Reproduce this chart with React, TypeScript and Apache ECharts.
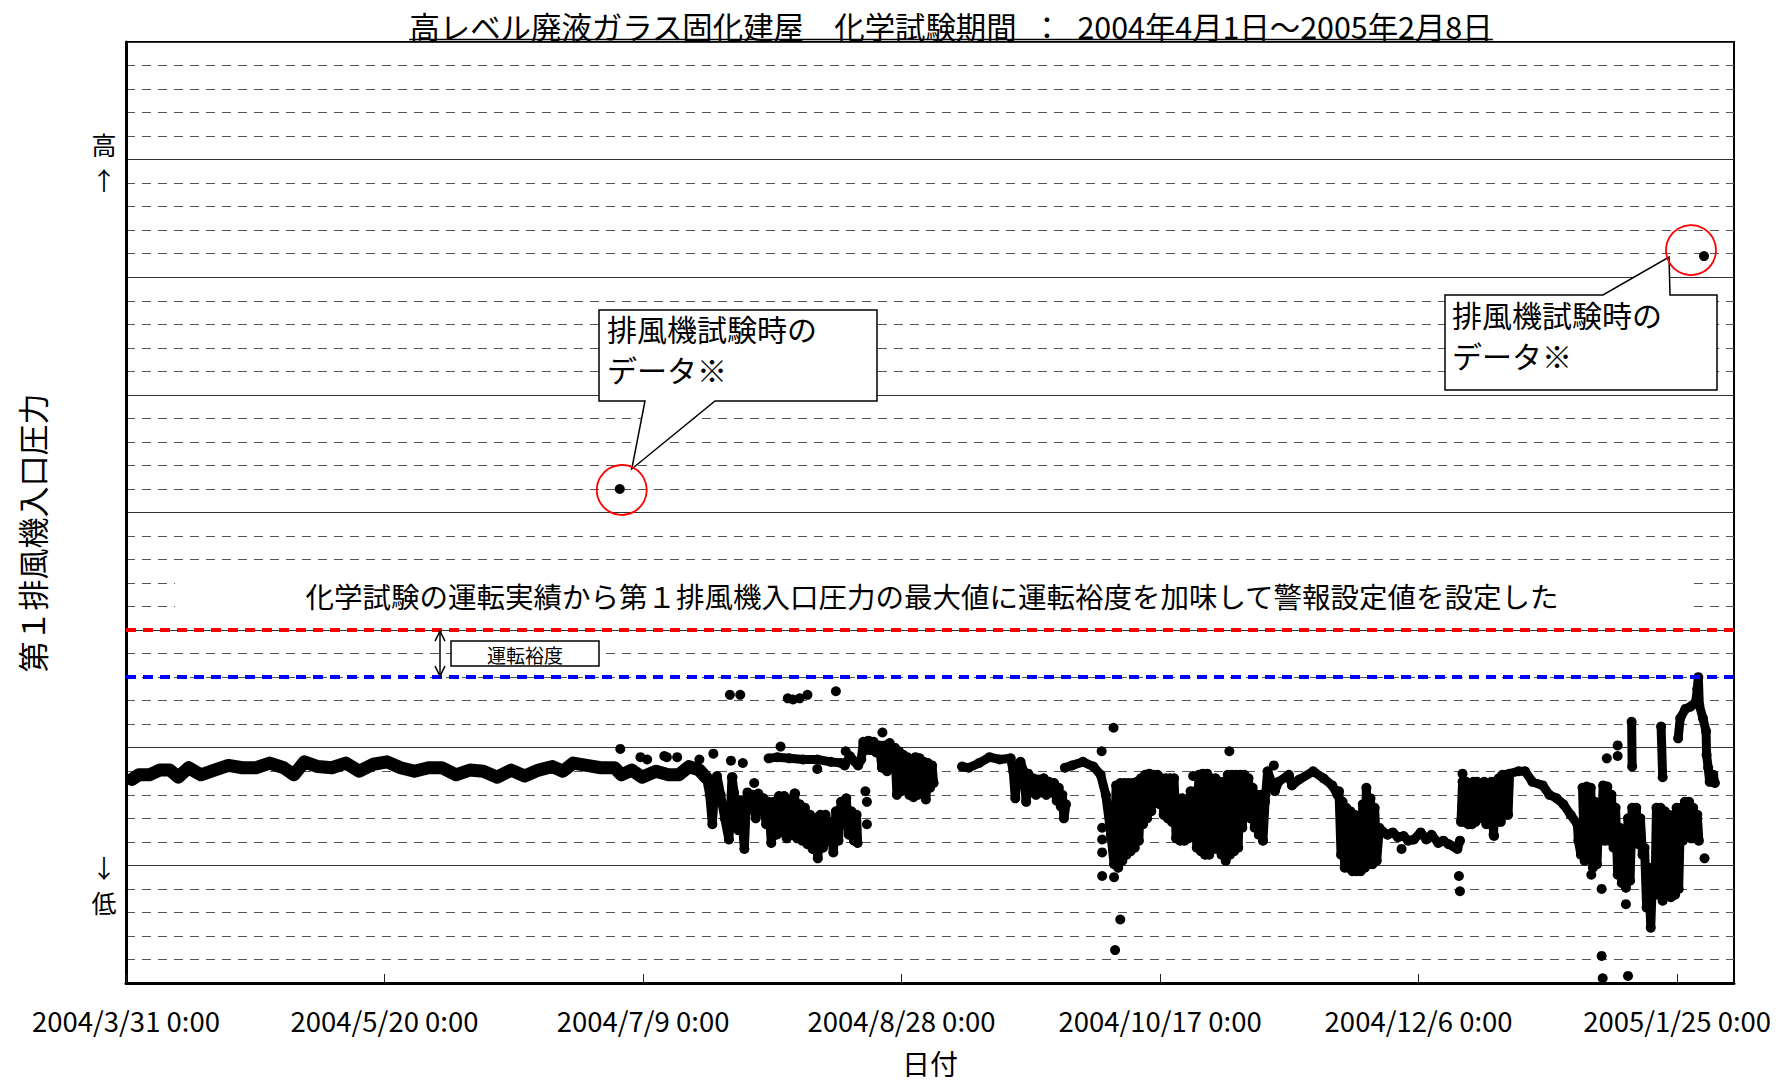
import React, { useEffect, useRef } from "react";
import * as echarts from "echarts";

// x values are days counted from 2004/3/31 0:00 (day 0); y values are in grid units (0–8).
const AXIS_START = Date.UTC(2004, 2, 31);
const X_MAX_DAY = 311;
const X_TICK_STEP = 50;
const Y_MAX = 8;

const TITLE = "高レベル廃液ガラス固化建屋　化学試験期間\u2002：\u20022004年4月1日～2005年2月8日";
const Y_NAME = "第１排風機入口圧力";
const X_NAME = "日付";
const NOTE = "化学試験の運転実績から第１排風機入口圧力の最大値に運転裕度を加味して警報設定値を設定した";
const MARGIN_LABEL = "運転裕度";
const CALLOUT_TEXT = "排風機試験時の\nデータ※";

// alarm setpoint (red) and the maximum seen during the chemical test (blue)
const alarmSetpoint = 3.0;
const testMaximum = 2.6;

// readings taken while the exhaust fan was being tested
const fanTestPoints: number[][] = [
  [95.5, 4.2],
  [305.2, 6.18],
];

// steady operation, April – early July
const traceAprJul: number[][] = [
  [1.1, 1.73], [2.5, 1.77], [4.5, 1.77], [6.5, 1.81], [8.5, 1.81], [10.1, 1.75], [12.1, 1.83],
  [14.5, 1.77], [17.1, 1.81], [19.8, 1.85], [22.5, 1.83], [25.1, 1.83], [27.8, 1.87], [30.5, 1.83],
  [32.5, 1.77], [34.5, 1.88], [37.1, 1.84], [39.8, 1.83], [42.5, 1.87], [45.1, 1.8], [47.8, 1.86],
  [50.5, 1.88], [53.1, 1.83], [55.8, 1.8], [58.5, 1.83], [61.1, 1.83], [63.8, 1.77], [66.5, 1.81],
  [69.1, 1.8], [71.8, 1.75], [74.5, 1.81], [77.1, 1.76], [79.8, 1.81], [82.5, 1.84], [84.5, 1.8],
  [86.5, 1.87], [89.1, 1.85], [91.8, 1.83], [94.5, 1.83], [95.8, 1.77], [97.8, 1.81], [99.8, 1.75],
  [102.5, 1.8], [104.9, 1.77], [106.9, 1.77], [108.9, 1.84], [110.9, 1.81], [112.3, 1.74],
];

// dips and the scattered period, late July – August
const traceJulAug: number[][] = [
  [112.3, 1.74], [112.9, 1.6], [113.4, 1.35], [113.8, 1.62], [114.3, 1.76], [115.0, 1.6],
  [115.8, 1.4], [116.6, 1.22], [116.9, 1.45], [117.2, 1.75], [117.6, 1.62], [118.0, 1.45],
  [118.4, 1.3], [118.8, 1.55], [119.3, 1.3], [119.6, 1.14], [119.9, 1.45], [120.2, 1.62],
  [120.8, 1.5], [121.3, 1.6], [121.8, 1.4], [122.3, 1.61], [122.8, 1.46], [123.3, 1.57],
  [123.8, 1.35], [124.3, 1.54], [124.8, 1.19], [125.3, 1.54], [125.8, 1.26], [126.3, 1.59],
  [126.8, 1.28], [127.3, 1.59], [127.8, 1.23], [128.3, 1.56], [128.8, 1.26], [129.3, 1.61],
  [129.8, 1.23], [130.3, 1.52], [130.8, 1.21], [131.3, 1.49], [131.8, 1.18], [132.3, 1.43],
  [132.8, 1.14], [133.3, 1.4], [133.8, 1.06], [134.3, 1.43], [134.8, 1.15], [135.3, 1.43],
  [135.8, 1.21], [136.3, 1.37], [136.8, 1.11], [137.3, 1.46], [137.8, 1.21], [138.3, 1.54],
  [138.8, 1.35], [139.3, 1.57], [139.8, 1.26], [140.3, 1.46], [140.8, 1.21], [141.3, 1.43],
  [141.5, 1.19],
];

// the upper branch, August
const traceAugUpper: number[][] = [
  [124.3, 1.91], [126.0, 1.92], [128.3, 1.91], [131.0, 1.9], [133.7, 1.9], [136.3, 1.88],
  [138.3, 1.87], [139.0, 1.85], [140.0, 1.93], [141.0, 1.88], [141.6, 1.85], [142.2, 1.9],
  [142.6, 2.05], [143.1, 1.98], [143.6, 2.06], [144.1, 1.98], [144.6, 2.05], [145.1, 1.96],
  [145.7, 2.02], [146.2, 1.83], [146.7, 2.02], [147.2, 1.8], [147.7, 2.04], [148.2, 1.85],
  [148.7, 2.0], [149.1, 1.6], [149.5, 1.97], [149.9, 1.63], [150.3, 1.94], [150.7, 1.66],
  [151.1, 1.92], [151.5, 1.6], [151.9, 1.9], [152.3, 1.58], [152.7, 1.92], [153.1, 1.6],
  [153.5, 1.91], [153.9, 1.63], [154.3, 1.88], [154.7, 1.56], [155.1, 1.87], [155.5, 1.66],
  [155.9, 1.85], [156.2, 1.7],
];

// September – early October
const traceSepOct: number[][] = [
  [161.7, 1.84], [163.0, 1.83], [165.0, 1.87], [167.0, 1.92], [169.0, 1.9], [171.1, 1.91],
  [171.6, 1.8], [172.0, 1.57], [172.4, 1.83], [173.0, 1.88], [173.6, 1.8], [174.1, 1.54],
  [174.5, 1.78], [175.0, 1.62], [175.5, 1.74], [176.0, 1.6], [176.5, 1.73], [177.0, 1.62],
  [177.5, 1.74], [178.0, 1.6], [178.5, 1.71], [179.0, 1.62], [179.5, 1.7], [180.0, 1.55],
  [180.4, 1.66], [180.8, 1.5], [181.1, 1.6], [181.4, 1.4], [181.8, 1.52],
];

// October – early December
const traceOctNov: number[][] = [
  [181.6, 1.83], [183.0, 1.85], [185.1, 1.88], [187.1, 1.84], [188.5, 1.77], [189.5, 1.6],
  [190.5, 1.26], [191.1, 1.01], [191.5, 1.68], [191.9, 0.98], [192.3, 1.7], [192.7, 1.04],
  [193.1, 1.7], [193.5, 1.09], [193.9, 1.7], [194.3, 1.12], [194.7, 1.7], [195.1, 1.15],
  [195.5, 1.71], [195.9, 1.21], [196.3, 1.74], [196.7, 1.35], [197.1, 1.77], [197.5, 1.4],
  [197.9, 1.78], [198.3, 1.46], [198.7, 1.77], [199.1, 1.54], [199.5, 1.77], [199.9, 1.52],
  [200.3, 1.74], [200.7, 1.43], [201.1, 1.74], [201.5, 1.4], [201.9, 1.74], [202.3, 1.37],
  [202.7, 1.74], [203.1, 1.23], [203.5, 1.57], [203.9, 1.21], [204.3, 1.57], [204.7, 1.21],
  [205.1, 1.54], [205.5, 1.23], [205.9, 1.63], [206.3, 1.26], [206.7, 1.63], [207.1, 1.15],
  [207.5, 1.77], [207.9, 1.12], [208.3, 1.78], [208.7, 1.09], [209.1, 1.78], [209.5, 1.09],
  [209.9, 1.74], [210.3, 1.14], [210.7, 1.74], [211.1, 1.14], [211.5, 1.71], [211.9, 1.09],
  [212.3, 1.71], [212.7, 1.04], [213.1, 1.77], [213.5, 1.09], [213.9, 1.77], [214.3, 1.12],
  [214.7, 1.77], [215.1, 1.15], [215.5, 1.77], [215.9, 1.32], [216.3, 1.77], [216.7, 1.43],
  [217.1, 1.74], [217.5, 1.4], [217.9, 1.66], [218.3, 1.32], [218.7, 1.6], [219.1, 1.26],
  [219.5, 1.6], [219.9, 1.21], [220.3, 1.54], [220.8, 1.8], [222.2, 1.63], [222.9, 1.71],
  [224.9, 1.77], [225.5, 1.68], [226.9, 1.73], [229.6, 1.8], [231.6, 1.74], [233.3, 1.68],
  [234.3, 1.6], [234.6, 1.63], [235.0, 1.09], [235.3, 1.54], [235.7, 0.98], [236.0, 1.49],
  [236.4, 0.98], [236.8, 1.46], [237.2, 0.95], [237.6, 1.43], [238.0, 0.95], [238.4, 1.4],
  [238.8, 0.95], [239.2, 1.52], [239.6, 0.98], [239.9, 1.66], [240.3, 1.01], [240.7, 1.57],
  [241.1, 1.01], [241.5, 1.49], [241.9, 1.04], [242.4, 1.32], [243.0, 1.29], [244.0, 1.26],
  [245.0, 1.28], [246.0, 1.24], [247.1, 1.25], [248.0, 1.21], [249.1, 1.22], [250.4, 1.28],
  [251.5, 1.22], [252.5, 1.26], [253.8, 1.19], [254.8, 1.21], [255.8, 1.18], [256.8, 1.16],
  [257.5, 1.14], [258.0, 1.21],
];

// December
const traceNovDec: number[][] = [
  [258.2, 1.37], [258.5, 1.71], [258.9, 1.37], [259.2, 1.71], [259.6, 1.35], [259.9, 1.68],
  [260.3, 1.35], [260.6, 1.71], [261.0, 1.37], [261.3, 1.71], [261.7, 1.4], [262.0, 1.68],
  [262.4, 1.4], [262.7, 1.71], [263.1, 1.35], [263.4, 1.68], [263.8, 1.35], [264.1, 1.71],
  [264.5, 1.26], [264.8, 1.71], [265.2, 1.37], [265.5, 1.74], [265.9, 1.37], [266.2, 1.77],
  [266.6, 1.43], [266.9, 1.77], [267.3, 1.43], [267.6, 1.78], [269.3, 1.8], [270.6, 1.8],
  [272.0, 1.71], [274.0, 1.68], [275.3, 1.6], [276.7, 1.57], [278.0, 1.52], [279.4, 1.43],
  [280.7, 1.35], [280.9, 1.21], [281.4, 1.09],
];

// late December – January, lower branch
const traceDecJan: number[][] = [
  [281.7, 1.66], [282.1, 1.04], [282.5, 1.67], [282.9, 1.09], [283.3, 1.66], [283.7, 0.98],
  [284.1, 1.54], [284.5, 1.01], [284.9, 1.49], [285.3, 1.21], [285.7, 1.68], [286.1, 1.21],
  [286.5, 1.67], [286.9, 1.21], [287.3, 1.6], [287.7, 1.15], [288.1, 1.49], [288.5, 0.92],
  [288.9, 1.32], [289.3, 0.85], [289.7, 1.26], [290.1, 0.81], [290.5, 1.4], [290.9, 0.87],
  [291.3, 1.49], [291.7, 1.21], [292.1, 1.49], [292.5, 1.18], [292.9, 1.4], [293.3, 1.09],
  [293.7, 1.15], [294.1, 0.64], [294.5, 0.98], [294.9, 0.47], [295.3, 0.98], [295.7, 0.75],
  [296.0, 1.49], [296.4, 0.75], [296.8, 1.49], [297.2, 0.7], [297.6, 1.46], [298.0, 0.75],
  [298.4, 1.43], [298.8, 0.73], [299.2, 1.32], [299.6, 0.75], [299.9, 1.49], [300.3, 0.8],
  [300.7, 1.49], [301.1, 1.21], [301.5, 1.54], [301.9, 1.26], [302.3, 1.54], [302.7, 1.23],
  [303.1, 1.49], [303.5, 1.23], [303.9, 1.43], [304.2, 1.21],
];

// January, upper branch up to the peak
const traceJanPeak: number[][] = [
  [300.2, 2.08], [300.6, 2.25], [301.6, 2.33], [302.6, 2.35], [303.6, 2.39], [303.9, 2.5],
  [304.1, 2.6], [304.3, 2.36], [305.0, 2.25], [305.6, 2.14], [305.7, 1.94], [306.0, 1.83],
  [306.3, 1.71], [307.0, 1.77], [307.3, 1.7],
];

const streakJanA: number[][] = [[291.2, 2.22], [291.3, 1.84]];
const streakJanB: number[][] = [[296.9, 2.18], [297.2, 1.75]];

// isolated readings
const scatterDots: number[][] = [
  [95.6, 1.99], [99.5, 1.92], [100.8, 1.9], [104.1, 1.93], [104.6, 1.92], [106.6, 1.92],
  [110.9, 1.9], [113.6, 1.95], [117.0, 1.89], [119.3, 1.87], [117.3, 1.75], [121.5, 1.7],
  [129.4, 1.61], [126.6, 2.01], [133.7, 1.82], [139.2, 1.97], [143.0, 1.63], [143.3, 1.54],
  [143.3, 1.35], [146.3, 2.13], [116.8, 2.45], [118.8, 2.45], [128.0, 2.42], [129.0, 2.41],
  [130.3, 2.42], [131.8, 2.45], [137.3, 2.48], [188.7, 1.97], [191.0, 2.17], [188.8, 1.32],
  [188.8, 1.22], [188.8, 1.11], [188.8, 0.91], [191.1, 0.9], [192.3, 0.54], [191.3, 0.28],
  [206.4, 1.76], [213.4, 1.97], [222.0, 1.85], [246.7, 1.14], [257.8, 0.91], [258.0, 0.78],
  [258.5, 1.78], [264.6, 1.25], [283.4, 0.92], [285.4, 0.8], [285.4, 0.23], [285.6, 0.04],
  [286.4, 1.91], [288.5, 2.02], [288.5, 1.93], [290.1, 0.67], [290.5, 0.06], [305.3, 1.06],
];

const FONT = '"Noto Sans CJK JP", "Noto Sans CJK SC", sans-serif';
const BLACK = "#000";

function dayLabel(day: number): string {
  const d = new Date(AXIS_START + Math.round(day) * 86400000);
  return `${d.getUTCFullYear()}/${d.getUTCMonth() + 1}/${d.getUTCDate()} 0:00`;
}

function traceSeries(data: number[][], width: number, withDots: boolean) {
  return {
    type: "line",
    data,
    silent: true,
    z: 3,
    showSymbol: withDots,
    symbol: "circle",
    symbolSize: 10,
    itemStyle: { color: BLACK, opacity: 1 },
    lineStyle: { color: BLACK, width, cap: "round", join: "round", opacity: 1 },
  };
}

function dotSeries(data: number[][], z: number) {
  return {
    type: "scatter",
    data,
    symbolSize: 10,
    itemStyle: { color: BLACK, opacity: 1 },
    silent: true,
    z,
  };
}

function measure(text: string, size: number): number {
  const ctx = document.createElement("canvas").getContext("2d");
  if (!ctx) return text.length * size;
  ctx.font = `${size}px ${FONT}`;
  return ctx.measureText(text).width;
}

const text = (x: number, y: number, t: string, size: number, extra: any = {}) => ({
  type: "text",
  x,
  y,
  z: 20,
  style: {
    text: t,
    fontSize: size,
    fontFamily: FONT,
    fill: BLACK,
    align: "center",
    verticalAlign: "middle",
    ...extra,
  },
});

export default function App() {
  const ref = useRef<HTMLDivElement>(null);

  useEffect(() => {
    if (!ref.current) return;
    const chart = echarts.init(ref.current, undefined, { renderer: "svg" });

    const option: any = {
      animation: false,
      backgroundColor: "#fff",
      grid: {
        left: 126,
        top: 42,
        right: 44,
        bottom: 97,
        show: true,
        borderColor: BLACK,
        borderWidth: 2,
        backgroundColor: "transparent",
      },
      xAxis: {
        type: "value",
        min: 0,
        max: X_MAX_DAY,
        interval: X_TICK_STEP,
        name: X_NAME,
        nameLocation: "middle",
        nameGap: 66,
        nameTextStyle: { fontSize: 28, fontFamily: FONT, color: BLACK },
        axisLine: { show: true, lineStyle: { color: BLACK, width: 3 } },
        axisTick: { show: true, inside: true, length: 9, lineStyle: { color: "#222", width: 1 } },
        axisLabel: {
          formatter: (v: number) => dayLabel(v),
          margin: 23,
          fontSize: 27.5,
          fontFamily: FONT,
          color: BLACK,
          showMaxLabel: false,
        },
        splitLine: { show: false },
      },
      yAxis: {
        type: "value",
        min: 0,
        max: Y_MAX,
        interval: 1,
        axisLine: { show: true, lineStyle: { color: BLACK, width: 3 } },
        axisTick: { show: false },
        axisLabel: { show: false },
        splitLine: { show: true, lineStyle: { color: "#333", width: 1 } },
        minorTick: { show: false, splitNumber: 5 },
        minorSplitLine: { show: true, lineStyle: { color: "#555", width: 1, type: [9, 7] } },
      },
      series: [
        {
          ...traceSeries(traceAprJul, 13, false),
          markLine: {
            silent: true,
            symbol: ["none", "none"],
            label: { show: false },
            z: 4,
            data: [
              { yAxis: alarmSetpoint, lineStyle: { color: "#ff0000", width: 4, type: [10, 7] } },
              { yAxis: testMaximum, lineStyle: { color: "#0000ff", width: 4, type: [10, 7] } },
            ],
          },
        },
        traceSeries(traceJulAug, 9, true),
        traceSeries(traceAugUpper, 9, true),
        traceSeries(traceSepOct, 9, true),
        traceSeries(traceOctNov, 9, true),
        traceSeries(traceNovDec, 9, true),
        traceSeries(traceDecJan, 9, true),
        traceSeries(traceJanPeak, 9, true),
        traceSeries(streakJanA, 9, true),
        traceSeries(streakJanB, 9, true),
        dotSeries(scatterDots, 3),
        dotSeries(fanTestPoints, 25),
      ],
    };
    chart.setOption(option);

    const px = (p: number[]) => chart.convertToPixel({ gridIndex: 0 }, p) as number[];
    const [d1x, d1y] = px(fanTestPoints[0]);
    const [d2x, d2y] = px(fanTestPoints[1]);
    const yAlarm = px([0, alarmSetpoint])[1];
    const yMax = px([0, testMaximum])[1];

    const titleSize = 30.4;
    const titleX = 951;
    const titleW = measure(TITLE, titleSize);
    const arrowX = 440;

    const elements: any[] = [
      // title with underline
      text(titleX, 26, TITLE, titleSize),
      {
        type: "line",
        z: 20,
        shape: { x1: titleX - titleW / 2, y1: 39.5, x2: titleX + titleW / 2, y2: 39.5 },
        style: { stroke: BLACK, lineWidth: 1.5 },
      },
      // y-axis caption and direction marks
      { ...text(31, 533, Y_NAME, 31), rotation: Math.PI / 2 },
      text(104, 161, "高\n↑", 25, { lineHeight: 35 }),
      text(104, 884, "↓\n低", 25, { lineHeight: 35 }),
      // note across the plot
      {
        type: "rect",
        z: 15,
        shape: { x: 175, y: 572, width: 1513, height: 47 },
        style: { fill: "#fff" },
      },
      text(932, 595, NOTE, 28.5),
      // margin box and double arrow
      {
        type: "rect",
        z: 18,
        shape: { x: 451, y: 641, width: 148, height: 25 },
        style: { fill: "#fff", stroke: BLACK, lineWidth: 1.5 },
      },
      text(525, 654, MARGIN_LABEL, 19),
      {
        type: "line",
        z: 20,
        shape: { x1: arrowX, y1: yAlarm + 1, x2: arrowX, y2: yMax - 1 },
        style: { stroke: BLACK, lineWidth: 1.5 },
      },
      {
        type: "polyline",
        z: 20,
        shape: { points: [[arrowX - 5, yAlarm + 11], [arrowX, yAlarm + 1], [arrowX + 5, yAlarm + 11]] },
        style: { stroke: BLACK, lineWidth: 1.5, fill: "none" },
      },
      {
        type: "polyline",
        z: 20,
        shape: { points: [[arrowX - 5, yMax - 11], [arrowX, yMax - 1], [arrowX + 5, yMax - 11]] },
        style: { stroke: BLACK, lineWidth: 1.5, fill: "none" },
      },
      // callout for the July test reading
      {
        type: "polygon",
        z: 18,
        shape: {
          points: [[599, 310], [877, 310], [877, 401], [715, 401], [d1x + 12, d1y - 20], [645, 401], [599, 401]],
        },
        style: { fill: "#fff", stroke: BLACK, lineWidth: 1.5 },
      },
      text(607, 348, CALLOUT_TEXT, 30, { align: "left", lineHeight: 41 }),
      {
        type: "circle",
        z: 22,
        shape: { cx: d1x + 2, cy: d1y + 1, r: 25 },
        style: { fill: "none", stroke: "#ff0000", lineWidth: 1.8 },
      },
      // callout for the January test reading
      {
        type: "polygon",
        z: 18,
        shape: {
          points: [[1445, 295], [1603, 295], [d2x - 35, d2y + 1], [d2x - 34, 295], [1717, 295], [1717, 390], [1445, 390]],
        },
        style: { fill: "#fff", stroke: BLACK, lineWidth: 1.5 },
      },
      text(1452, 334, CALLOUT_TEXT, 30, { align: "left", lineHeight: 41 }),
      {
        type: "circle",
        z: 22,
        shape: { cx: d2x - 13, cy: d2y - 6, r: 25 },
        style: { fill: "none", stroke: "#ff0000", lineWidth: 1.8 },
      },
    ];

    chart.setOption({ graphic: { elements } });

    return () => chart.dispose();
  }, []);

  return (
    <div
      ref={ref}
      style={{ position: "absolute", left: 0, top: 0, width: 1778, height: 1082, background: "#fff" }}
    />
  );
}
